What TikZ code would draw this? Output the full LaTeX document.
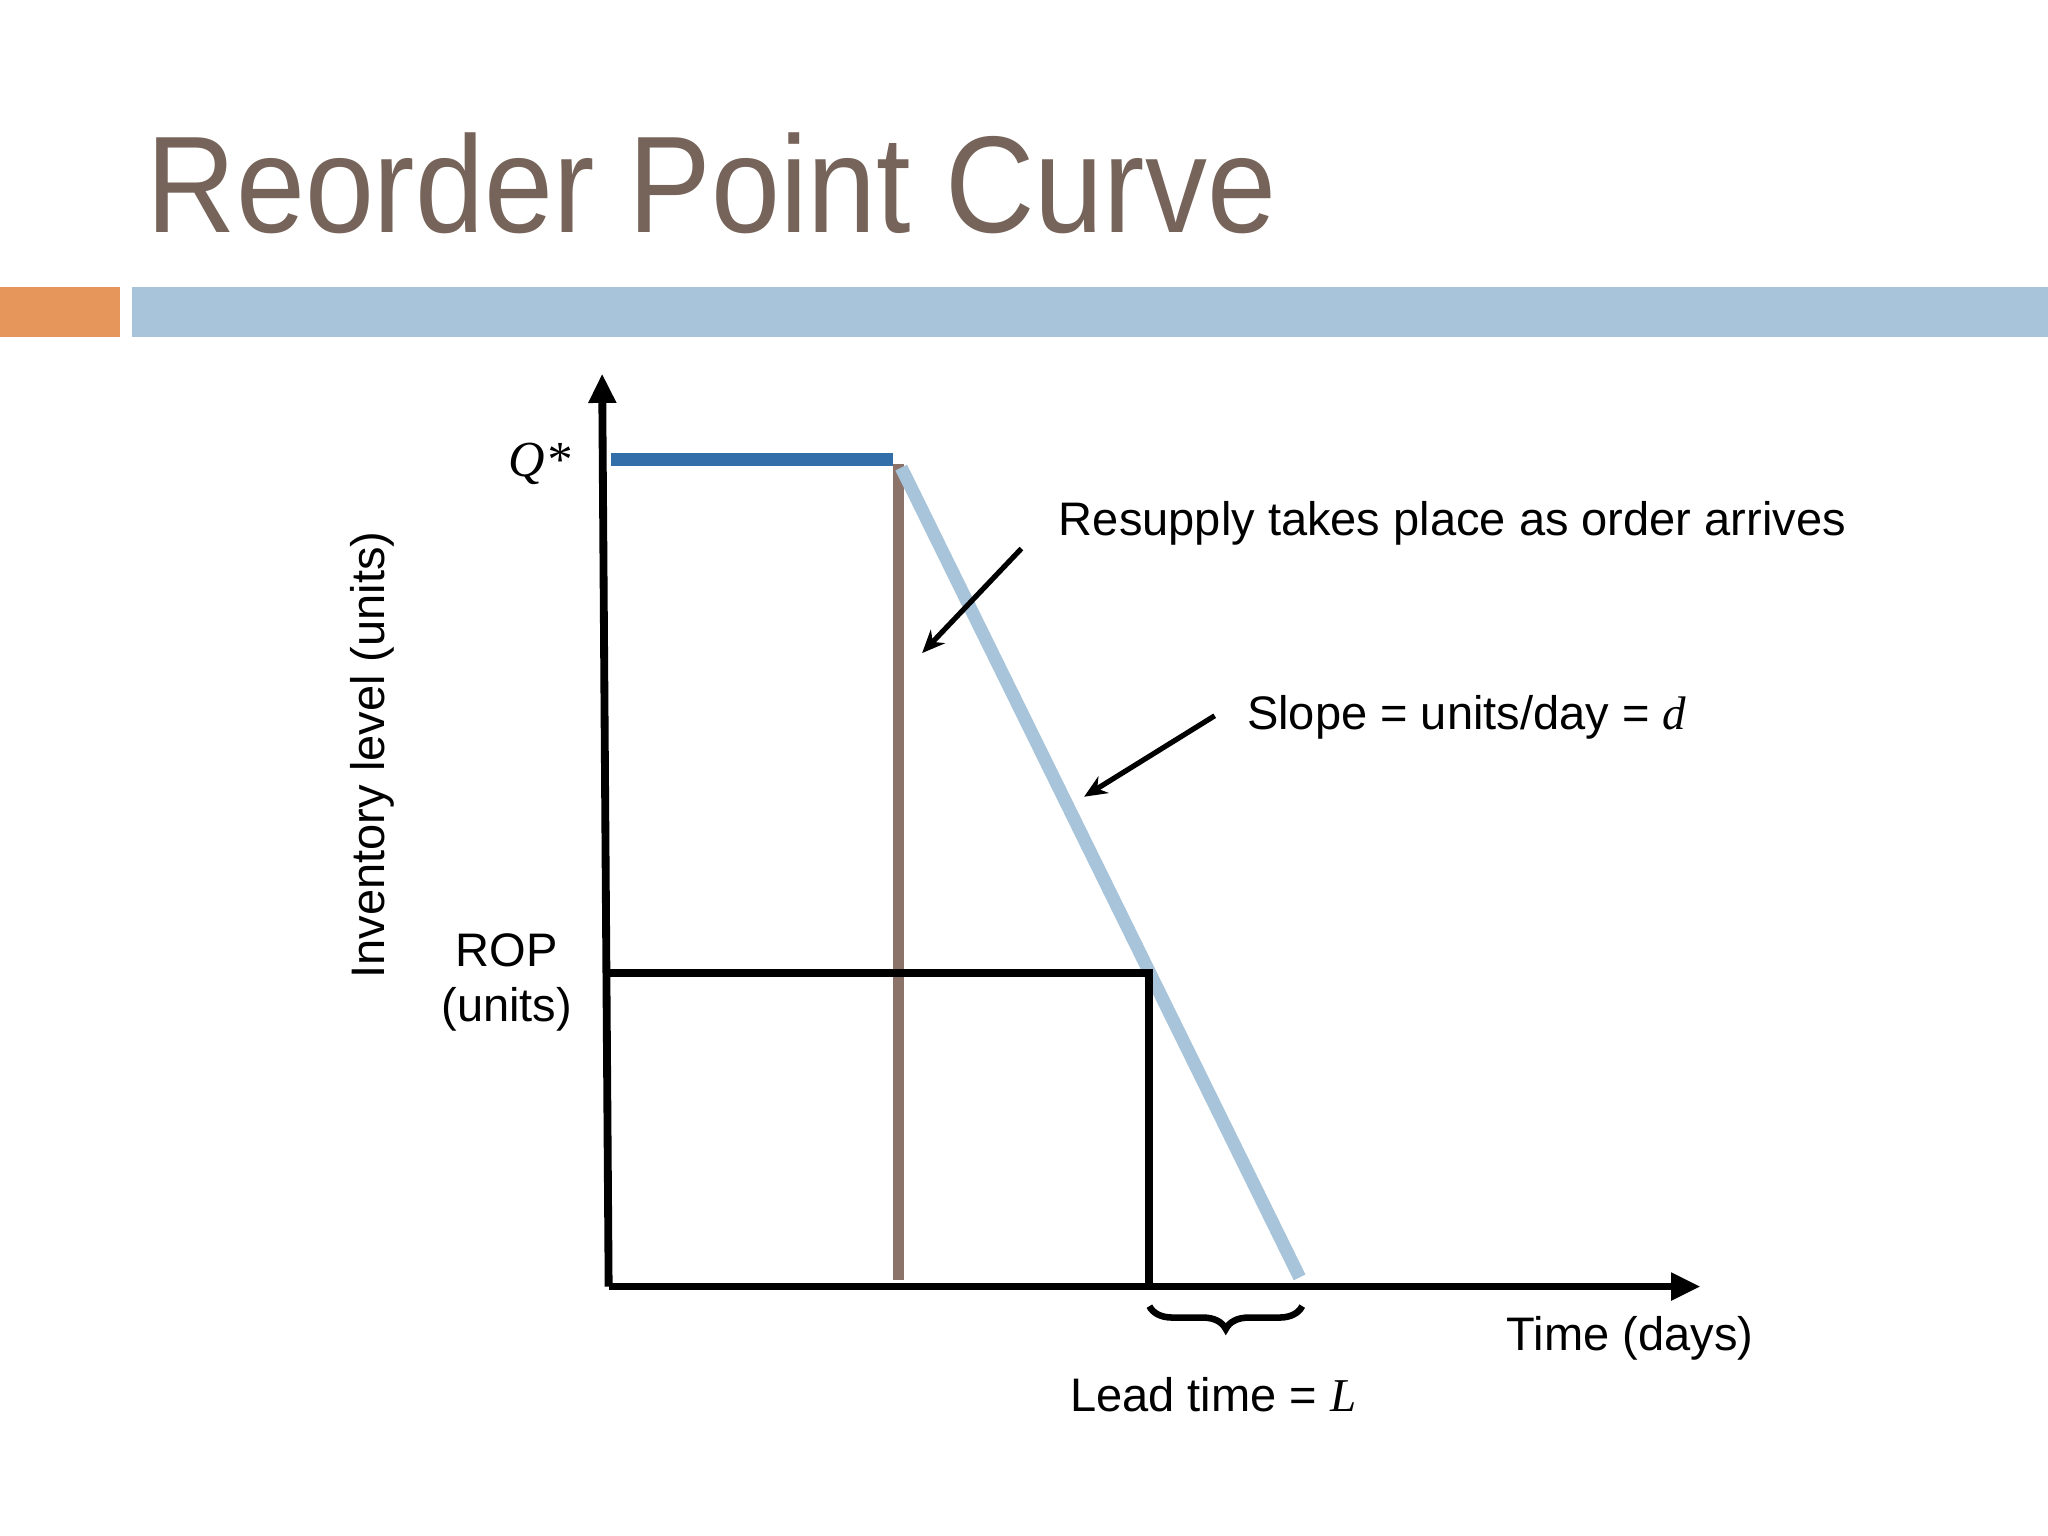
\documentclass[tikz,border=0pt]{standalone}
\usepackage{fontspec}
\setmainfont{Liberation Sans}
\newfontfamily\serifit{Liberation Serif}
\usetikzlibrary{decorations.pathreplacing,arrows.meta}
\definecolor{titlec}{RGB}{118,100,90}
\definecolor{orangec}{RGB}{230,150,90}
\definecolor{barblue}{RGB}{167,196,218}
\definecolor{qblue}{RGB}{50,110,170}
\definecolor{brownc}{RGB}{140,115,105}
\tikzset{lbl/.style={font=\fontsize{20.5}{24}\selectfont,inner sep=0pt},
axis/.style={line width=0.12cm,-{Triangle[length=0.45cm,width=0.4cm]}},
ptr/.style={line width=0.08cm,-{Stealth[length=0.35cm,width=0.3cm]}}}
\begin{document}
\begin{tikzpicture}[x=0.02cm,y=-0.02cm]
\useasboundingbox (0,0) rectangle (1568,1176);
\fill[white] (0,0) rectangle (1568,1176);
\node[anchor=base west,text=titlec,inner sep=0pt,font=\fontsize{60}{60}\selectfont,xscale=0.9] (title) at (112,178) {Reorder Point Curve};
\fill[orangec] (0,220) rectangle (92,258);
\fill[barblue] (101,220) rectangle (1568,258);
\coordinate (O) at (466,985);
\coordinate (Ytop) at (461,286);
\coordinate (Xend) at (1302,985);
\draw[line width=0.2cm,qblue] (468,352) coordinate (q0) -- (684,352) coordinate (q1);
\draw[line width=0.16cm,brownc] (688,355) coordinate (b0) -- (688,980) coordinate (b1);
\draw[line width=0.2cm,barblue] (690,358) coordinate (s0) -- (995,978) coordinate (s1);
\draw[line width=0.12cm] (466,745) coordinate (r0) -- (880,745) coordinate (r1) -- (880,985) coordinate (r2);
\draw[axis] (O) -- (Ytop);
\draw[axis] (O) -- (Xend);
\coordinate (br0) at (880,1000); \coordinate (br1) at (997,1000);
\draw[line width=0.1cm,decorate,decoration={brace,mirror,amplitude=0.35cm}] (br0) -- (br1);
\node[lbl,font=\fontsize{22}{24}\selectfont\serifit\itshape] (qs) at (413,355) {Q*};
\node[lbl,align=center] (rop) at (388,752) {ROP\\(units)};
\node[lbl,rotate=90] (ylab) at (285,578) {Inventory level (units)};
\node[lbl] (res) at (1112,401) {Resupply takes place as order arrives};
\node[lbl] (slope) at (1123,549) {Slope = units/day = {\serifit\itshape d}};
\node[lbl] (time) at (1248,1025) {Time (days)};
\node[lbl] (lead) at (929,1068) {Lead time = {\serifit\itshape L}};
\coordinate (a0) at (782,420); \coordinate (a1) at (706,500);
\coordinate (c0) at (930,548); \coordinate (c1) at (830,610);
\draw[ptr] (a0) -- (a1);
\draw[ptr] (c0) -- (c1);
\end{tikzpicture}
\end{document}
